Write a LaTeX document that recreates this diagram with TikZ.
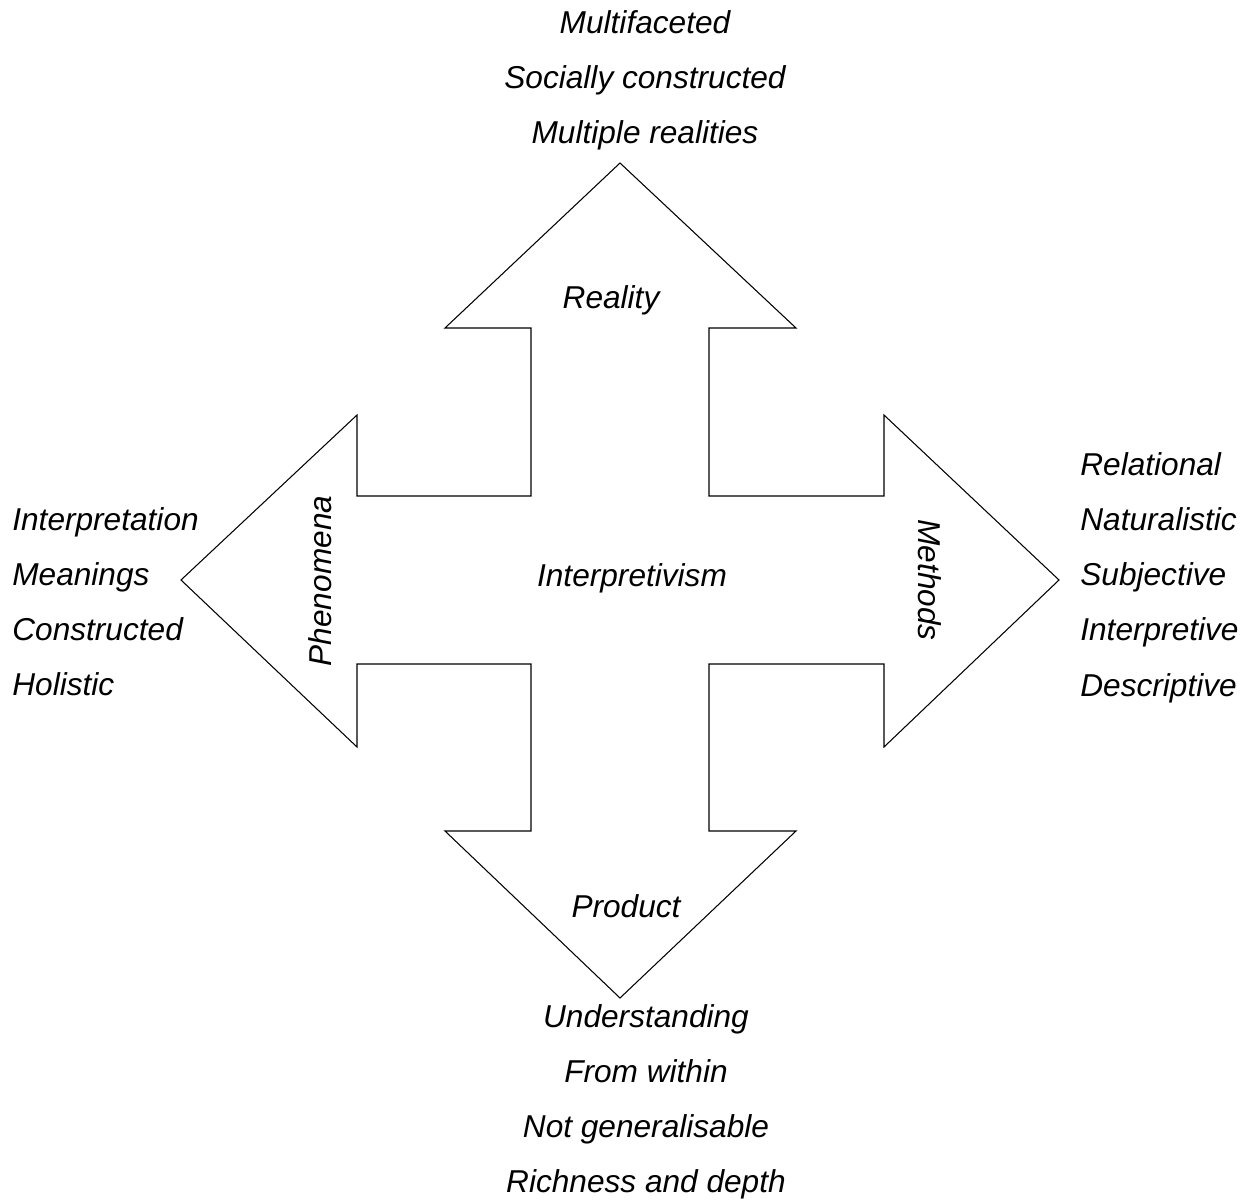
\documentclass[tikz,border=0pt]{standalone}
\usepackage{fontspec}
\setmainfont{Liberation Sans}

\begin{document}
\begin{tikzpicture}[x=0.02cm, y=-0.02cm,
  crossarrow/.style={draw, line width=0.6pt, line join=miter},
  term/.style={font=\fontsize{18}{21.6}\selectfont\itshape, inner sep=0pt, anchor=base},
  listterm/.style={term, anchor=base west}
]
\useasboundingbox (0,0) rectangle (1249,1201);

% four-headed arrow
\draw[crossarrow] (620,163) -- (796,328) -- (709,328) -- (709,496) -- (884,496)
  -- (884,415) -- (1059,580) -- (884,747) -- (884,664) -- (709,664)
  -- (709,831) -- (796,831) -- (620,998) -- (445,831) -- (531,831)
  -- (531,664) -- (357,664) -- (357,747) -- (181,580) -- (357,415)
  -- (357,496) -- (531,496) -- (531,328) -- (445,328) -- cycle;

\node[term] (centre) at (632,586) {Interpretivism};
\node[term] (reality) at (611,308) {Reality};
\node[term] (product) at (626,917) {Product};
\node[term, rotate=90] (phenomena) at (331,581) {Phenomena};
\node[term, rotate=-90] (methods) at (918,580) {Methods};

% word lists, one line every 55 px
\foreach \w [count=\i] in {Multifaceted, Socially constructed, Multiple realities}
  \node[term] (reality-\i) at (645,{33+55*(\i-1)}) {\w};
\foreach \w [count=\i] in {Understanding, From within, Not generalisable, Richness and depth}
  \node[term] (product-\i) at (646,{1027+55.3*(\i-1)}) {\w};
\foreach \w [count=\i] in {Interpretation, Meanings, Constructed, Holistic}
  \node[listterm] (phenomena-\i) at (12,{530+55.3*(\i-1)}) {\w};
\foreach \w [count=\i] in {Relational, Naturalistic, Subjective, Interpretive, Descriptive}
  \node[listterm] (methods-\i) at (1080,{475+55.3*(\i-1)}) {\w};

\end{tikzpicture}
\end{document}
